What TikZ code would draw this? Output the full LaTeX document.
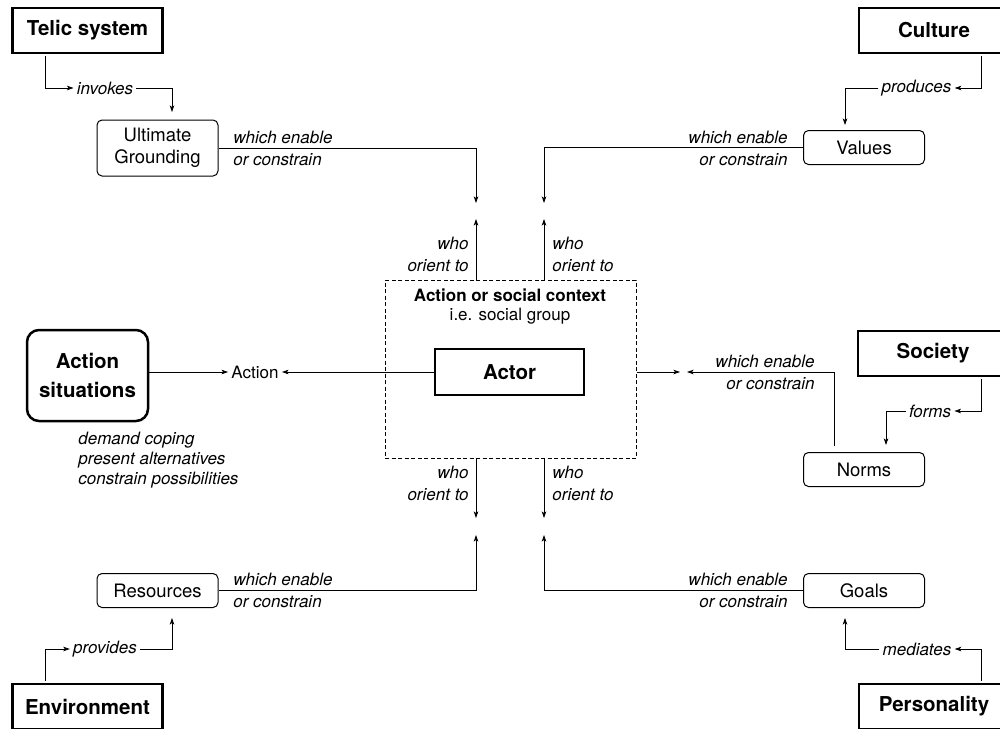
\documentclass[tikz,border=0pt]{standalone}
\usepackage{fontspec}
\setmainfont{TeX Gyre Heros}
\usetikzlibrary{arrows.meta}

\newcommand\sysfont{\fontsize{20.5}{29}\selectfont\bfseries}
\newcommand\boxfont{\fontsize{18.5}{22}\selectfont}
\newcommand\labfont{\fontsize{17}{22}\selectfont\itshape}
\newcommand\ctxfont{\fontsize{17}{21}\selectfont}

\tikzset{
	sysbox/.style={draw, line width=2.5pt, minimum width=150pt, minimum height=45pt, font=\sysfont},
	sitbox/.style={draw, line width=2.5pt, rounded corners=12pt, minimum width=121pt, minimum height=91pt, align=center, font=\sysfont},
	itembox/.style={draw, line width=1pt, rounded corners=5pt, minimum width=121pt, minimum height=34pt, align=center, font=\boxfont},
	ctxbox/.style={draw, line width=1pt, dash pattern=on 4pt off 2.5pt, minimum width=251pt, minimum height=178pt},
	actorbox/.style={draw, line width=2pt, minimum width=149pt, minimum height=46pt, font=\sysfont},
	note/.style={font=\labfont, inner sep=3pt},
}

\begin{document}
\begin{tikzpicture}[x=1pt, y=-1pt, line width=.8pt, >={Stealth[length=6.5pt,width=4.5pt,inset=1.5pt]}]
	\useasboundingbox (0,0) rectangle (1000,728);
	\clip (0,0) rectangle (1000,728);

	% the outer systems
	\node[sysbox] (telic)       at (87.5,30.5)  {Telic system};
	\node[sysbox] (culture)     at (934,30.5)   {Culture};
	\node[sysbox] (society)     at (933,353.5)  {Society};
	\node[sysbox] (environment) at (87.5,706.5) {Environment};
	\node[sysbox] (personality) at (934,706.5)  {Personality};
	\node[sitbox] (actsit)      at (87.5,375.5) {Action\\situations};

	% what they give
	\node[itembox, minimum height=56pt] (ground) at (157.5,148) {Ultimate\\Grounding};
	\node[itembox] (values)    at (864,147.5)   {Values};
	\node[itembox] (norms)     at (864,469.5)   {Norms};
	\node[itembox] (resources) at (157.5,590.5) {Resources};
	\node[itembox] (goals)     at (864,590.5)   {Goals};

	% the middle
	\node[ctxbox] (context) at (510.5,369) {};
	\node[font=\ctxfont\bfseries] (ctxtitle) at (510,295) {Action or social context};
	\node[font=\ctxfont] (ctxsub) at (510,316) {i.e. social group};
	\node[actorbox] (actor) at (509.5,372) {Actor};
	\node[font=\ctxfont, inner sep=3pt] (action) at (255,372) {Action};
	\node[note, anchor=west, align=left, font=\fontsize{17}{20}\selectfont\itshape] (demands) at (75,460)
		{demand coping\\present alternatives\\constrain possibilities};

	\draw[->] (actsit.east |- action) -- (action);
	\draw[->] (actor) -- (action);

	% small feeds
	\node[note] (invokes)  at (105,88)    {invokes};
	\node[note] (produces) at (916.5,88)  {produces};
	\node[note] (forms)    at (930,411)   {forms};
	\node[note] (provides) at (105,649)   {provides};
	\node[note] (mediates) at (917,649)   {mediates};
	\coordinate (leftx)  at (45.5,0);
	\coordinate (rightx) at (981,0);
	\coordinate (normsx) at (834,0);
	\coordinate (invokesend)  at (172,112);
	\coordinate (producesend) at (845,125);
	\coordinate (formsend)    at (886,445);
	\coordinate (providesend) at (172,618);
	\coordinate (mediatesend) at (845,618);

	\draw[->, shorten <=2pt] (telic.south -| leftx) |- (invokes);
	\draw[->] (invokes) -| (invokesend);
	\draw[->, shorten <=2pt] (culture.south -| rightx) |- (produces);
	\draw[->] (produces) -| (producesend);
	\draw[->, shorten <=2pt] (society.south -| rightx) |- (forms);
	\draw[->] (forms) -| (formsend);
	\draw[->, shorten <=2pt] (environment.north -| leftx) |- (provides);
	\draw[->] (provides) -| (providesend);
	\draw[->, shorten <=2pt] (personality.north -| rightx) |- (mediates);
	\draw[->] (mediates) -| (mediatesend);

	% which enable or constrain
	\coordinate (groundend) at (476,203);
	\coordinate (valuesend) at (544,203);
	\coordinate (resend)    at (476,535);
	\coordinate (goalsend)  at (544,535);
	\coordinate (normsend)  at (687,372);
	\draw[->] (ground) -| (groundend);
	\draw[->] (values) -| (valuesend);
	\draw[->] (resources) -| (resend);
	\draw[->] (goals) -| (goalsend);
	\draw[->, shorten <=6pt] (norms.north -| normsx) |- (normsend);
	\node[note, anchor=west, align=left]  (groundnote) at (230,148)   {which enable\\or constrain};
	\node[note, anchor=east, align=right] (valuesnote) at (791,148)   {which enable\\or constrain};
	\node[note, anchor=west, align=left]  (resnote)    at (230,590.5) {which enable\\or constrain};
	\node[note, anchor=east, align=right] (goalsnote)  at (791,590.5) {which enable\\or constrain};
	\node[note, anchor=east, align=right] (normsnote)  at (818,372)   {which enable\\or constrain};

	% who orient to
	\coordinate (upleft)    at (476,219);
	\coordinate (upright)   at (544,219);
	\coordinate (downleft)  at (476,518);
	\coordinate (downright) at (544,518);
	\coordinate (ctxend)    at (680,372);
	\draw[->] (context.north -| upleft) -- (upleft);
	\draw[->] (context.north -| upright) -- (upright);
	\draw[->] (context.south -| downleft) -- (downleft);
	\draw[->] (context.south -| downright) -- (downright);
	\draw[->] (context.east |- actor) -- (ctxend);
	\node[note, anchor=east, align=right] (whotl) at (472,254) {who\\orient to};
	\node[note, anchor=west, align=left]  (whotr) at (549,254) {who\\orient to};
	\node[note, anchor=east, align=right] (whobl) at (472,483) {who\\orient to};
	\node[note, anchor=west, align=left]  (whobr) at (549,483) {who\\orient to};
\end{tikzpicture}
\end{document}
